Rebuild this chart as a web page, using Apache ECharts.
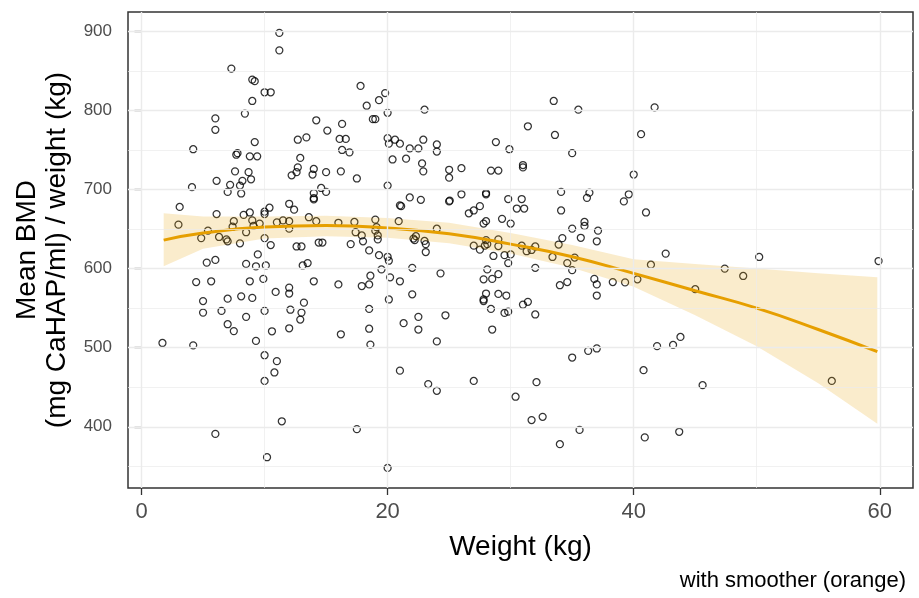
<!DOCTYPE html>
<html>
<head>
<meta charset="utf-8">
<script src="https://cdn.jsdelivr.net/npm/echarts@6/dist/echarts.min.js"></script>
<style>
html,body{margin:0;padding:0;background:#fff;}
#chart{width:919px;height:598px;}
</style>
</head>
<body>
<div id="chart"></div>
<script>
// Scatter points: weight (kg) and mean BMD per weight
const weightKg = [
 11.2,11.2,7.3,9.0,9.2,10.0,10.5,9.0,8.4,6.0,6.0,14.2,15.1,4.2,9.2,12.7,13.4,7.7,7.8,8.8,9.4,12.9,12.7,12.6,12.2,7.6,8.7,14.0,13.9,15.0,
 4.1,6.1,7.2,8.0,8.2,8.9,7.0,8.1,14.0,14.0,14.0,14.6,15.0,3.1,3.0,6.1,7.5,7.4,8.3,8.8,9.0,9.1,9.6,10.0,10.0,10.4,12.0,12.4,11.0,11.5,
 12.0,12.0,13.6,14.2,5.4,4.85,6.3,6.9,7.0,8.0,8.5,10.0,10.5,12.6,13.0,14.4,14.7,
 9.45,5.3,6.0,8.5,9.3,10.1,13.1,13.5,4.44,5.66,8.8,9.9,14.0,10.9,12.0,12.0,5.0,5.0,7.0,8.1,9.0,6.5,8.5,10.0,12.1,13.2,13.0,12.9,7.0,7.5,
 10.6,12.0,9.3,1.7,4.2,10.0,11.0,10.8,10.0,11.4,6.0,10.2,
 17.8,18.3,19.3,19.8,20.0,18.8,19.0,23.0,16.3,16.1,16.6,16.3,16.9,16.2,17.5,20.0,20.1,20.6,21.0,21.8,22.5,22.9,24.0,24.0,20.4,21.5,22.8,22.9,20.0,25.0,
 25.0,26.0,28.8,29.9,28.4,29.0,21.0,21.1,21.8,22.7,25.0,25.05,26.0,28.0,28.0,26.6,27.0,27.5,29.8,30.5,29.3,30.0,27.8,28.0,16.0,17.3,17.4,17.9,18.0,17.0,
 18.5,19.0,19.1,19.0,19.2,19.2,20.9,22.1,22.3,22.2,23.0,23.1,23.1,24.0,27.0,27.5,27.9,28.0,28.1,29.0,29.0,
 19.3,20.0,20.1,19.5,18.6,18.5,17.9,16.0,20.2,21.0,22.0,24.3,20.1,22.0,18.5,18.5,18.6,16.2,21.3,22.5,22.5,24.7,24.0,21.0,23.3,24.0,27.0,30.4,17.5,20.0,
 28.6,29.5,30.0,29.8,28.1,27.8,28.5,29.0,28.0,27.8,27.8,29.0,29.65,28.4,29.5,29.8,28.5,
 33.5,35.5,41.7,31.4,33.6,40.6,35.0,31.0,31.0,40.0,30.9,31.1,34.1,34.1,36.4,36.2,39.6,39.2,41.0,35.0,36.0,36.0,37.1,35.7,34.2,37.0,33.9,30.9,32.0,31.3,
 31.7,
 32.0,33.4,34.6,35.2,35.0,42.6,41.4,34.0,34.6,36.8,37.0,37.0,38.3,39.3,40.3,45.0,31.0,31.4,32.0,35.0,36.3,37.0,41.9,43.2,43.8,40.8,45.6,32.1,31.7,32.6,
 35.6,34.0,40.9,43.7,
 47.4,48.9,50.2,59.9,56.1
];
const meanBmd = [
 898,876,853,839,837,823,823,812,796,790,775.5,787.6,774.6,751,760,763,766,744,746,742,742,740,728,722,718,723,722,726,719,722,
 703,711,706,705,711,713,697,695,695.5,689,687.5,702,697,678,655.6,669,660,653,668,671,661,654,657,672,669,677,682,674.5,658.5,661,
 660,650.5,665,660,648,638.6,640,637,634.5,632,646,638.6,629.8,628,628,633,633,
 618,607.6,611,606,603,604,604,607,583,584,584,587,584,570.5,576,568.5,559,544.4,562,565,563,546.5,539,546.5,548,557,544.4,535.6,529.7,521,
 520.8,524.6,508.6,506,503,490.5,483,468.7,458,407,391,361.5,
 831,806,813,822,797,789,789,801,783,764,764,750,747,723,714,765,758,763,758,752,752,763,757,748,738,739,733,723,705,725,
 715,727,760,751,724,724,680,679,690,687,685,686,694,695.5,694,670,673.5,679,688,676,663,657,657,660,658,659,646,642,634.5,631,
 623,662,652.5,648,642,637,660,638,641,636,635,631,621,650.5,629,624,629,636,631,637,628.5,
 617,615,610,599,591,580,578,580,589,584,601,594,561,567.5,549,524,504,517,531,539,523,541,508,471,454,445.5,458,438,397,348,
 616,617,618,607,599,586.5,587,593,568.5,561,559,568,566,549,544,545.6,523,
 812,801,804,780,769,770,746,731,728,719,688,676,697,673.5,696,689.5,694,685,671,650.6,659,654,648,639,638.6,634.6,630.5,629,628,622,
 623.6,
 601,614.7,607,614,598,619,605,579,583,587,580,566,583,582.6,586.5,574,554.5,558,542,487.6,496,499,502,503.5,513.6,471.6,452.6,456.4,408.5,412.6,
 396,378,386.6,393.7,
 600,590.7,614.7,609.6,458
];
// Smoother (orange) and its confidence band, read at these weights
const smoothWeight = [1.8, 5, 10, 15, 20, 25, 30, 35, 40, 45, 50, 55, 59.8];
const smoothFit    = [636, 645, 652.5, 654.5, 651.5, 644, 631, 615, 594, 572, 550, 523, 495];
const bandLower    = [603, 625, 638, 641, 639, 632, 619, 601, 577, 541, 502, 455, 404];
const bandUpper    = [670, 666, 666, 667, 664, 658, 645, 630, 612, 606, 600, 594, 589];
// Axis ticks / grid
const xTicks = [0, 20, 40, 60];
const xMinor = [10, 30, 50];
const yTicks = [400, 500, 600, 700, 800, 900];
const yMinor = [350, 450, 550, 650, 750, 850];

const FONT = "'Liberation Sans', Arial, Helvetica, sans-serif";
const chart = echarts.init(document.getElementById('chart'), null, {renderer: 'canvas'});

const scatterData = weightKg.map((w, i) => [w, meanBmd[i]]);
const bandData = smoothWeight.map((w, i) => [w, bandLower[i], bandUpper[i]]);
const fitData = smoothWeight.map((w, i) => [w, smoothFit[i]]);

const gridColor = '#ebebeb';
const gridLines = []
  .concat(xMinor.map(v => ({xAxis: v, lineStyle: {color: gridColor, width: 0.7, type: 'solid'}})))
  .concat(yMinor.map(v => ({yAxis: v, lineStyle: {color: gridColor, width: 0.7, type: 'solid'}})))
  .concat(xTicks.map(v => ({xAxis: v, lineStyle: {color: gridColor, width: 1.4, type: 'solid'}})))
  .concat(yTicks.map(v => ({yAxis: v, lineStyle: {color: gridColor, width: 1.4, type: 'solid'}})));

function renderBand(params, api) {
  if (params.dataIndex !== 0) return null;
  const upper = [], lower = [];
  for (let i = 0; i < bandData.length; i++) {
    upper.push(api.coord([bandData[i][0], bandData[i][2]]));
    lower.push(api.coord([bandData[i][0], bandData[i][1]]));
  }
  return {
    type: 'polygon',
    shape: {points: upper.concat(lower.reverse())},
    style: {fill: 'rgba(230,159,0,0.2)', stroke: null},
    silent: true
  };
}

chart.setOption({
  animation: false,
  backgroundColor: '#ffffff',
  textStyle: {fontFamily: FONT},
  title: {
    text: 'with smoother (orange)',
    right: 8, bottom: 1,
    textStyle: {fontFamily: FONT, fontSize: 22, fontWeight: 'normal', color: '#000'}
  },
  grid: {
    left: 128, right: 6, top: 12, bottom: 110,
    show: true, borderColor: '#333333', borderWidth: 1.5, backgroundColor: '#fff'
  },
  xAxis: {
    type: 'value', min: -1.1, max: 62.7,
    name: 'Weight (kg)', nameLocation: 'middle', nameGap: 45,
    nameTextStyle: {fontFamily: FONT, fontSize: 28, color: '#000'},
    axisLine: {show: false},
    axisTick: {show: true, customValues: xTicks, length: 7, lineStyle: {color: '#333', width: 1.3}},
    axisLabel: {show: true, customValues: xTicks, fontSize: 22, color: '#4d4d4d', margin: 13, fontFamily: FONT},
    splitLine: {show: false}
  },
  yAxis: {
    type: 'value', min: 322.6, max: 924.5,
    name: 'Mean BMD\n(mg CaHAP/ml) / weight (kg)', nameLocation: 'middle', nameGap: 54, nameRotate: 90,
    nameTextStyle: {fontFamily: FONT, fontSize: 28, color: '#000', lineHeight: 30},
    axisLine: {show: false},
    axisTick: {show: true, customValues: yTicks, length: 7, lineStyle: {color: '#333', width: 1.3}},
    axisLabel: {show: true, customValues: yTicks, fontSize: 17, color: '#4d4d4d', margin: 16, fontFamily: FONT},
    splitLine: {show: false}
  },
  series: [
    {
      type: 'line', data: [], z: 1, silent: true,
      markLine: {silent: true, symbol: ['none', 'none'], label: {show: false}, animation: false, data: gridLines}
    },
    {
      type: 'scatter', data: scatterData, z: 2, symbol: 'circle', symbolSize: 7,
      itemStyle: {color: 'rgba(255,255,255,0)', borderColor: '#000', borderWidth: 1.25}
    },
    {
      type: 'custom', data: bandData, z: 3, renderItem: renderBand, silent: true,
      encode: {x: 0, y: [1, 2]}
    },
    {
      type: 'line', data: fitData, z: 4, smooth: true, symbol: 'none',
      lineStyle: {color: '#E69F00', width: 3}, silent: true
    }
  ]
});
</script>
</body>
</html>
